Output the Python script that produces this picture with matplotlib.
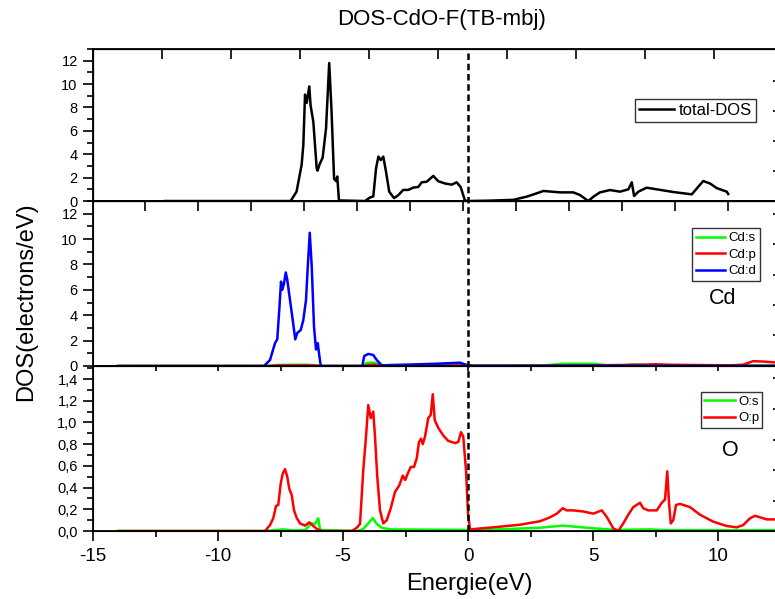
import numpy as np
import matplotlib
matplotlib.use("Agg")
import matplotlib.pyplot as plt
from matplotlib.lines import Line2D
from matplotlib.ticker import MultipleLocator, FuncFormatter
import matplotlib.transforms as mtransforms

plt.rcParams["font.family"] = ["Liberation Sans", "DejaVu Sans"]
plt.rcParams["axes.unicode_minus"] = False

# ---- total DOS ----
e_tot = [-14.06, -8.13, -7.85, -7.61, -7.53, -7.45, -7.37, -7.25, -7.19, -7.06,
         -6.90, -6.86, -6.75, -6.62, -6.46, -6.31, -6.20, -6.08, -5.99, -5.93,
         -5.85, -4.62, -4.39, -4.23, -4.10, -3.99, -3.88, -3.76, -3.63, -3.48,
         -3.25, -3.05, -2.82, -2.58, -2.34, -2.11, -1.95, -1.71, -1.40, -1.17,
         -0.85, -0.53, -0.30, -0.11, 0.09, 0.20, 1.20, 2.37, 3.00, 3.48, 3.79,
         4.58, 5.20, 5.52, 5.91, 6.15, 6.46, 6.93, 7.41, 7.80, 7.96, 8.07, 8.27,
         8.66, 9.14, 9.92, 10.79, 11.10, 11.33, 11.65, 11.97, 12.44, 12.51]
dos_tot = [0.0, 0.0, 0.8, 3.1, 4.8, 9.1, 8.4, 9.8, 8.2, 6.8,
           2.8, 2.6, 3.2, 3.7, 6.2, 11.8, 7.7, 1.9, 1.7, 2.1,
           0.05, 0.0, 0.3, 0.4, 2.8, 3.8, 3.5, 3.8, 2.5, 0.8,
           0.25, 0.5, 0.95, 0.95, 1.15, 1.2, 1.6, 1.65, 2.15, 1.7,
           1.5, 1.4, 1.6, 1.2, 0.05, 0.0, 0.03, 0.1, 0.37, 0.66, 0.86,
           0.74, 0.74, 0.51, 0.0, 0.37, 0.74, 0.94, 0.8, 1.0, 1.6, 0.43, 0.8,
           1.14, 1.0, 0.77, 0.57, 1.23, 1.71, 1.5, 1.1, 0.8, 0.6]

# ---- Cd partial DOS ----
e_cd_d = [-14.0, -8.16, -7.92, -7.72, -7.63, -7.55, -7.48, -7.43, -7.36, -7.29,
          -7.23, -7.12, -7.01, -6.91, -6.83, -6.69, -6.59, -6.48, -6.41, -6.33,
          -6.25, -6.16, -6.08, -6.01, -5.96, -5.89, -4.23, -4.15, -3.99, -3.79,
          -3.65, -3.45, -2.99, -2.05, -1.25, -0.32, -0.05, 0.2, 3.0, 6.0, 9.0, 12.5]
cd_d = [0.0, 0.0, 0.47, 1.8, 2.1, 4.4, 6.65, 6.0, 6.5, 7.37,
        6.8, 5.2, 3.6, 2.1, 2.6, 2.84, 3.6, 5.2, 7.8, 10.5,
        7.8, 3.1, 1.3, 1.8, 1.0, 0.0, 0.0, 0.79, 0.95, 0.87,
        0.47, 0.05, 0.08, 0.13, 0.18, 0.26, 0.08, 0.02, 0.02, 0.03, 0.02, 0.02]

e_cd_s = [-14.0, -8.0, -7.6, -6.5, -6.0, -5.9, -4.25, -4.1, -3.9, -3.7, -3.5,
          -3.0, 0.0, 0.2, 3.0, 3.8, 5.0, 5.6, 6.0, 6.6, 7.0, 7.5, 12.5]
cd_s = [0.0, 0.0, 0.08, 0.1, 0.05, 0.0, 0.0, 0.2, 0.27, 0.25, 0.03,
        0.02, 0.03, 0.01, 0.03, 0.18, 0.18, 0.05, 0.02, 0.12, 0.1, 0.03, 0.03]

e_cd_p = [-14.0, -8.1, -7.5, -6.2, -5.9, -4.2, -3.9, -3.6, -3.4, 0.0, 0.2,
          3.0, 5.0, 7.0, 7.5, 8.0, 9.0, 10.5, 11.0, 11.4, 11.8, 12.5]
cd_p = [0.0, 0.0, 0.05, 0.05, 0.0, 0.0, 0.1, 0.08, 0.02, 0.05, 0.01,
        0.02, 0.05, 0.1, 0.14, 0.1, 0.08, 0.05, 0.1, 0.38, 0.35, 0.25]

# ---- O partial DOS ----
e_o_p = [-14.0, -8.12, -7.92, -7.79, -7.68, -7.59, -7.49, -7.41, -7.32, -7.23,
         -7.15, -7.05, -6.96, -6.85, -6.72, -6.52, -6.35, -6.21, -6.05, -5.85,
         -4.65, -4.45, -4.32, -4.19, -4.08, -3.99, -3.89, -3.79, -3.72, -3.63,
         -3.52, -3.39, -3.25, -3.09, -2.92, -2.75, -2.61, -2.51, -2.41, -2.29,
         -2.16, -2.05, -1.96, -1.88, -1.81, -1.72, -1.59, -1.49, -1.41, -1.33,
         -1.19, -0.99, -0.79, -0.52, -0.39, -0.28, -0.19, -0.08, 0.0, 0.08,
         1.01, 2.08, 2.88, 3.28, 3.55, 3.79, 3.95, 4.21, 4.61, 5.01, 5.35, 5.55,
         5.81, 6.01, 6.21, 6.41, 6.61, 6.88, 7.01, 7.21, 7.55, 7.75, 7.88, 7.97,
         8.04, 8.11, 8.21, 8.32, 8.48, 8.88, 9.28, 9.81, 10.35, 10.75, 11.01,
         11.28, 11.48, 11.68, 11.95, 12.5]
o_p = [0.0, 0.0, 0.055, 0.117, 0.23, 0.24, 0.44, 0.53, 0.57, 0.5,
       0.39, 0.33, 0.19, 0.12, 0.07, 0.05, 0.08, 0.05, 0.02, 0.0,
       0.0, 0.03, 0.065, 0.56, 0.87, 1.16, 1.04, 1.1, 0.87, 0.5,
       0.19, 0.07, 0.1, 0.21, 0.36, 0.42, 0.51, 0.47, 0.53, 0.59,
       0.59, 0.67, 0.82, 0.85, 0.8, 0.87, 1.04, 1.07, 1.26, 1.02,
       0.95, 0.88, 0.83, 0.81, 0.82, 0.91, 0.87, 0.56, 0.16, 0.015,
       0.034, 0.058, 0.09, 0.126, 0.16, 0.21, 0.19, 0.19, 0.18, 0.16, 0.19, 0.13,
       0.025, 0.0, 0.07, 0.15, 0.22, 0.26, 0.21, 0.19, 0.19, 0.26, 0.29, 0.55,
       0.26, 0.07, 0.1, 0.24, 0.25, 0.22, 0.15, 0.086, 0.046, 0.034, 0.055,
       0.117, 0.14, 0.126, 0.107, 0.107]

e_o_s = [-14.0, -8.1, -7.4, -7.0, -6.5, -6.39, -6.29, -6.12, -5.99, -5.92,
         -4.4, -4.19, -3.99, -3.81, -3.65, -3.45, -3.1, 0.0, 0.08, 2.88, 3.79,
         5.0, 5.95, 7.2, 8.0, 12.5]
o_s = [0.0, 0.0, 0.015, 0.005, 0.01, 0.04, 0.07, 0.065, 0.117, 0.01,
       0.0, 0.02, 0.07, 0.12, 0.065, 0.03, 0.015, 0.01, 0.005, 0.03, 0.05,
       0.025, 0.01, 0.015, 0.008, 0.008]

GREEN, RED, BLUE = "#00ff00", "#ff0000", "#0000ff"
LW = 1.8

fig = plt.figure(figsize=(7.75, 5.99), dpi=100)
left, right = 0.12, 1.0026
y_edges = [0.9182, 0.6644, 0.389, 0.1135]
axes = []
for i in range(3):
    ax = fig.add_axes([left, y_edges[i + 1], right - left, y_edges[i] - y_edges[i + 1]])
    ax.set_facecolor("none")
    for s in ax.spines.values():
        s.set_linewidth(1.3)
    axes.append(ax)
ax1, ax2, ax3 = axes

# top panel: total DOS (its own energy scale)
ax1.plot(e_tot, dos_tot, color="black", lw=LW, label="total-DOS")
ax1.set_xlim(-17.45, 14.81)
ax1.set_ylim(0, 13.0)
ax1.yaxis.set_major_locator(MultipleLocator(2))
ax1.yaxis.set_minor_locator(MultipleLocator(1))
ax1.xaxis.set_major_locator(MultipleLocator(2.5))
ax1.tick_params(axis="x", which="major", direction="out", length=7, width=1.2,
                labelbottom=False)
top_ax = ax1.twiny()
top_ax.set_xlim(0, 9.913)
top_ax.set_xticks(range(10))
top_ax.tick_params(axis="x", direction="in", length=7, width=1.2, labeltop=False)
ax1.legend(loc="upper left", bbox_to_anchor=(0.792, 0.671), borderaxespad=0,
           fontsize=12, handlelength=2.1, handletextpad=0.3, borderpad=0.25,
           fancybox=False, edgecolor="#333333", framealpha=1)

# middle panel: Cd
ax2.plot(e_cd_s, cd_s, color=GREEN, lw=LW, label="Cd:s")
ax2.plot(e_cd_p, cd_p, color=RED, lw=LW, label="Cd:p")
ax2.plot(e_cd_d, cd_d, color=BLUE, lw=LW, label="Cd:d")
ax2.set_xlim(-15, 12.36)
ax2.set_ylim(0, 13.0)
ax2.yaxis.set_major_locator(MultipleLocator(2))
ax2.yaxis.set_minor_locator(MultipleLocator(1))
ax2.xaxis.set_major_locator(MultipleLocator(2.5))
ax2.tick_params(axis="x", direction="out", length=3.5, width=1.2, labelbottom=False)
ax2.legend(loc="upper left", bbox_to_anchor=(0.876, 0.836), borderaxespad=0,
           fontsize=9.5, handlelength=2.2, handletextpad=0.25, borderpad=0.3,
           labelspacing=0.32, fancybox=False, edgecolor="#333333", framealpha=1)
ax2.text(0.92, 0.41, "Cd", transform=ax2.transAxes, fontsize=15.5,
         ha="center", va="center")

# bottom panel: O
ax3.plot(e_o_s, o_s, color=GREEN, lw=LW, label="O:s")
ax3.plot(e_o_p, o_p, color=RED, lw=LW, label="O:p")
ax3.set_xlim(-15, 12.36)
ax3.set_ylim(0, 1.52)
ax3.yaxis.set_major_locator(MultipleLocator(0.2))
ax3.yaxis.set_minor_locator(MultipleLocator(0.1))
ax3.yaxis.set_major_formatter(FuncFormatter(lambda v, _: f"{v:.1f}".replace(".", ",")))
ax3.xaxis.set_major_locator(MultipleLocator(5))
ax3.xaxis.set_minor_locator(MultipleLocator(2.5))
ax3.tick_params(axis="x", which="major", direction="out", length=7, width=1.2,
                labelsize=13.5, pad=5)
ax3.tick_params(axis="x", which="minor", direction="out", length=4, width=1.2)
ax3.legend(loc="upper left", bbox_to_anchor=(0.889, 0.842), borderaxespad=0,
           fontsize=9.5, handlelength=2.3, handletextpad=0.25, borderpad=0.25,
           labelspacing=0.35, fancybox=False, edgecolor="#333333", framealpha=1)
ax3.text(0.932, 0.49, "O", transform=ax3.transAxes, fontsize=15.5,
         ha="center", va="center")

for ax in axes:
    ax.tick_params(axis="y", which="major", direction="out", length=7, width=1.2,
                   labelsize=10.5, pad=4)
    ax.tick_params(axis="y", which="minor", direction="out", length=4, width=1.2)

# small inward ticks on the right-hand side of each panel
for ax, top_val, nticks in [(ax1, 5.07, 4), (ax2, 5.41, 5), (ax3, 5.41, 5)]:
    rax = ax.twinx()
    rax.set_ylim(0, top_val)
    rax.set_yticks(range(1, nticks + 1))
    rax.tick_params(axis="y", direction="in", length=3, width=1.2, labelright=False)

# Fermi level across all panels
fermi_tr = mtransforms.blended_transform_factory(ax3.transData, fig.transFigure)
fig.add_artist(Line2D([0, 0], [y_edges[3], y_edges[0]], transform=fermi_tr,
                      color="black", lw=1.8, dashes=(2.6, 1.5)))

fig.text(0.570, 0.967, "DOS-CdO-F(TB-mbj)", fontsize=16, ha="center", va="center")
fig.text(0.606, 0.025, "Energie(eV)", fontsize=17, ha="center", va="center")
fig.text(0.034, 0.496, "DOS(electrons/eV)", fontsize=17, rotation=90,
         ha="center", va="center")

fig.savefig("out.png", dpi=100, facecolor="white")
